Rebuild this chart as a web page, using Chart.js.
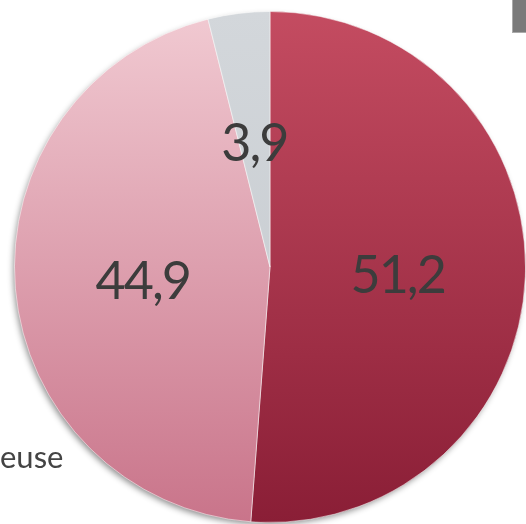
<!DOCTYPE html>
<html>
<head>
<meta charset="utf-8">
<script src="https://cdn.jsdelivr.net/npm/chart.js@4"></script>
<style>
  html, body { margin: 0; padding: 0; background: #fff; overflow: hidden; }
  #wrap { position: relative; width: 526px; height: 524px; overflow: hidden; }
  #box { position: absolute; left: 0; top: 0; width: 540px; height: 534px; }
  #legendTail {
    position: absolute; left: 0; top: 437px;
    font-family: Lato, "Open Sans", sans-serif; font-size: 31px; color: #444;
  }
  #corner {
    position: absolute; left: 512px; top: 0; width: 14px; height: 32px;
    background: #7a7a7a; border-left: 1px solid #aaa; border-bottom: 1px solid #aaa;
  }
</style>
</head>
<body>
<div id="wrap">
  <div id="box"><canvas id="pie"></canvas></div>
  <div id="legendTail">euse</div>
  <div id="corner"></div>
</div>
<script>
// Data
const categories = ['Fumeur', 'Non-fumeuse', 'Autre'];
const shares = [51.2, 44.9, 3.9];
const shareLabels = ['51,2', '44,9', '3,9'];

// gradient colours, top -> bottom
const topColors = ['#c44c61', '#f1cad2', '#d3d7db'];
const bottomColors = ['#8a1e36', '#c9748a', '#c3c8cd'];

function sliceFill(context) {
    const chart = context.chart;
    const area = chart.chartArea;
    if (!area) return topColors[context.dataIndex];
    const g = chart.ctx.createLinearGradient(0, area.top, 0, area.bottom);
    g.addColorStop(0, topColors[context.dataIndex]);
    g.addColorStop(1, bottomColors[context.dataIndex]);
    return g;
}

// soft shadow under the whole pie
const pieShadow = {
    id: 'pieShadow',
    beforeDatasetsDraw(chart) {
        const arc = chart.getDatasetMeta(0).data[0];
        if (!arc) return;
        const ctx = chart.ctx;
        ctx.save();
        ctx.shadowColor = 'rgba(0,0,0,0.45)';
        ctx.shadowBlur = 6;
        ctx.shadowOffsetX = -2;
        ctx.shadowOffsetY = 3;
        ctx.fillStyle = '#ccc';
        ctx.beginPath();
        ctx.arc(arc.x, arc.y, arc.outerRadius - 1, 0, Math.PI * 2);
        ctx.fill();
        ctx.restore();
    }
};

// value labels inside slices
const sliceLabels = {
    id: 'sliceLabels',
    afterDatasetsDraw(chart, args, opts) {
        const ctx = chart.ctx;
        ctx.save();
        ctx.font = opts.font;
        ctx.fillStyle = opts.color;
        ctx.textAlign = 'center';
        ctx.textBaseline = 'middle';
        if ('letterSpacing' in ctx) ctx.letterSpacing = '-2px';
        chart.getDatasetMeta(0).data.forEach((arc, i) => {
            const mid = (arc.startAngle + arc.endAngle) / 2;
            const r = arc.outerRadius * opts.radius;
            ctx.fillText(shareLabels[i], arc.x + Math.cos(mid) * r, arc.y + Math.sin(mid) * r + 4);
        });
        ctx.restore();
    }
};

new Chart(document.getElementById('pie'), {
    type: 'pie',
    data: {
        labels: categories,
        datasets: [{
            data: shares,
            backgroundColor: sliceFill,
            borderColor: 'rgba(255,255,255,0.5)',
            borderWidth: 1
        }]
    },
    options: {
        responsive: true,
        maintainAspectRatio: false,
        animation: false,
        layout: { padding: { left: 14, right: 14, top: 11, bottom: 11 } },
        plugins: {
            legend: { display: false },
            tooltip: { enabled: false },
            sliceLabels: {
                font: '52px Lato, "Open Sans", sans-serif',
                color: '#3c3c3c',
                radius: 0.5
            }
        }
    },
    plugins: [pieShadow, sliceLabels]
});
</script>
</body>
</html>
